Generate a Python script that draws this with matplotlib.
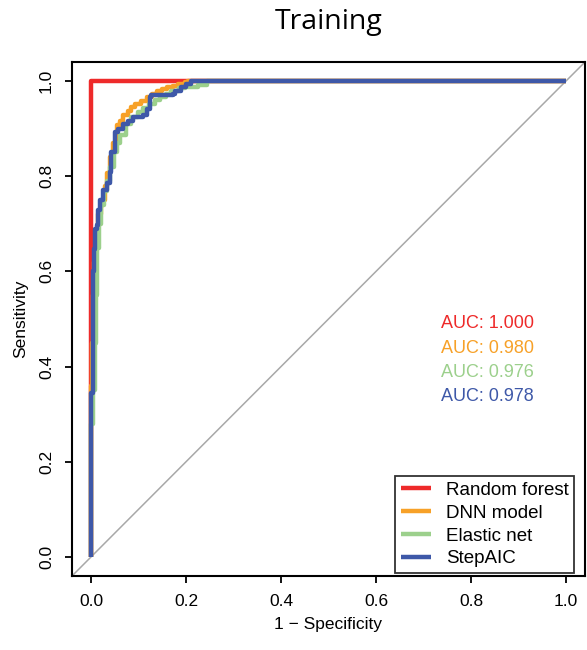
import matplotlib
matplotlib.use("Agg")
import matplotlib.pyplot as plt

# ROC curve vertices (1 - specificity, sensitivity)
rf_fpr = [0, 0, 1.0]
rf_tpr = [0, 1.0, 1.0]

dnn_fpr = [0, 0, 0.002, 0.004, 0.006, 0.010, 0.014, 0.020, 0.026, 0.030, 0.033, 0.040,
           0.046, 0.054, 0.061, 0.068, 0.078, 0.085, 0.092, 0.105, 0.117, 0.128, 0.138,
           0.150, 0.159, 0.172, 0.183, 0.197, 0.205, 1.0]
dnn_tpr = [0, 0.36, 0.45, 0.55, 0.62, 0.68, 0.72, 0.74, 0.75, 0.78, 0.806, 0.84,
           0.87, 0.907, 0.915, 0.928, 0.938, 0.945, 0.952, 0.958, 0.966, 0.973, 0.980,
           0.983, 0.987, 0.990, 0.994, 0.997, 1.0, 1.0]

enet_fpr = [0, 0, 0.005, 0.008, 0.010, 0.012, 0.013, 0.017, 0.022, 0.028, 0.034, 0.041,
            0.048, 0.055, 0.062, 0.074, 0.085, 0.098, 0.110, 0.122, 0.134, 0.146, 0.158,
            0.169, 0.185, 0.197, 0.225, 0.245, 1.0]
enet_tpr = [0, 0.28, 0.35, 0.45, 0.55, 0.60, 0.65, 0.70, 0.74, 0.77, 0.79, 0.82,
            0.851, 0.87, 0.886, 0.910, 0.925, 0.935, 0.944, 0.952, 0.960, 0.966, 0.973,
            0.980, 0.985, 0.987, 0.992, 1.0, 1.0]

step_fpr = [0, 0, 0.004, 0.005, 0.007, 0.008, 0.012, 0.015, 0.019, 0.026, 0.033, 0.040,
            0.043, 0.050, 0.057, 0.068, 0.078, 0.089, 0.110, 0.117, 0.124, 0.127, 0.173,
            0.176, 0.190, 0.200, 0.211, 1.0]
step_tpr = [0, 0.345, 0.50, 0.60, 0.648, 0.69, 0.697, 0.729, 0.75, 0.771, 0.785, 0.809,
            0.851, 0.893, 0.90, 0.910, 0.917, 0.924, 0.928, 0.942, 0.966, 0.970, 0.973,
            0.980, 0.987, 0.994, 1.0, 1.0]

models = ["Random forest", "DNN model", "Elastic net", "StepAIC"]
aucs = ["1.000", "0.980", "0.976", "0.978"]
colors = ["#EE2A2A", "#F7A128", "#9CD08C", "#3E58A8"]

curves = [(rf_fpr, rf_tpr), (dnn_fpr, dnn_tpr), (enet_fpr, enet_tpr), (step_fpr, step_tpr)]

plt.rcParams['font.family'] = ['Liberation Sans', 'DejaVu Sans']

fig = plt.figure(figsize=(5.87, 6.5), dpi=100)
ax = fig.add_axes([72 / 587, 1 - 576 / 650, 513 / 587, 514 / 650])

# chance line
ax.axline((0, 0), slope=1, color="#A8A8A8", lw=1.1, zorder=1)

for (fx, ty), name, c in zip(curves, models, colors):
    ax.plot(fx, ty, color=c, lw=3.2, drawstyle="steps-post", label=name,
            solid_capstyle="butt", zorder=2)

# AUC labels
for i, (a, c) in enumerate(zip(aucs, colors)):
    ax.text(0.835, 0.49 - i * 0.051, "AUC: " + a, color=c, fontsize=13,
            ha="center", va="center")

ax.set_xlim(-0.04, 1.04)
ax.set_ylim(-0.04, 1.04)
ticks = [0.0, 0.2, 0.4, 0.6, 0.8, 1.0]
ax.set_xticks(ticks)
ax.set_yticks(ticks)
ax.set_xticklabels(["%.1f" % t for t in ticks])
ax.set_yticklabels(["%.1f" % t for t in ticks], rotation=90, va="center")
ax.tick_params(direction="out", length=5, width=1.3, labelsize=12.5, color="black")
ax.tick_params(axis="x", pad=8)
ax.tick_params(axis="y", pad=8)
for s in ax.spines.values():
    s.set_linewidth(1.5)

ax.set_xlabel("1 − Specificity", fontsize=12.5, labelpad=6)
ax.set_ylabel("Sensitivity", fontsize=12.5, labelpad=8)

fig.text((72 + 586) / 2 / 587, 1 - 22 / 650, "Training", fontsize=20.5,
         family=["Open Sans", "DejaVu Sans"], ha="center", va="center")

leg = ax.legend(loc="lower right", bbox_to_anchor=(0.9786, 0.006), borderaxespad=0,
                fontsize=13.5, frameon=True, fancybox=False, edgecolor="black",
                handlelength=1.6, handletextpad=0.8, labelspacing=0.3,
                borderpad=0.3)
leg.get_frame().set_linewidth(1.3)

fig.savefig("out.png", dpi=100)
